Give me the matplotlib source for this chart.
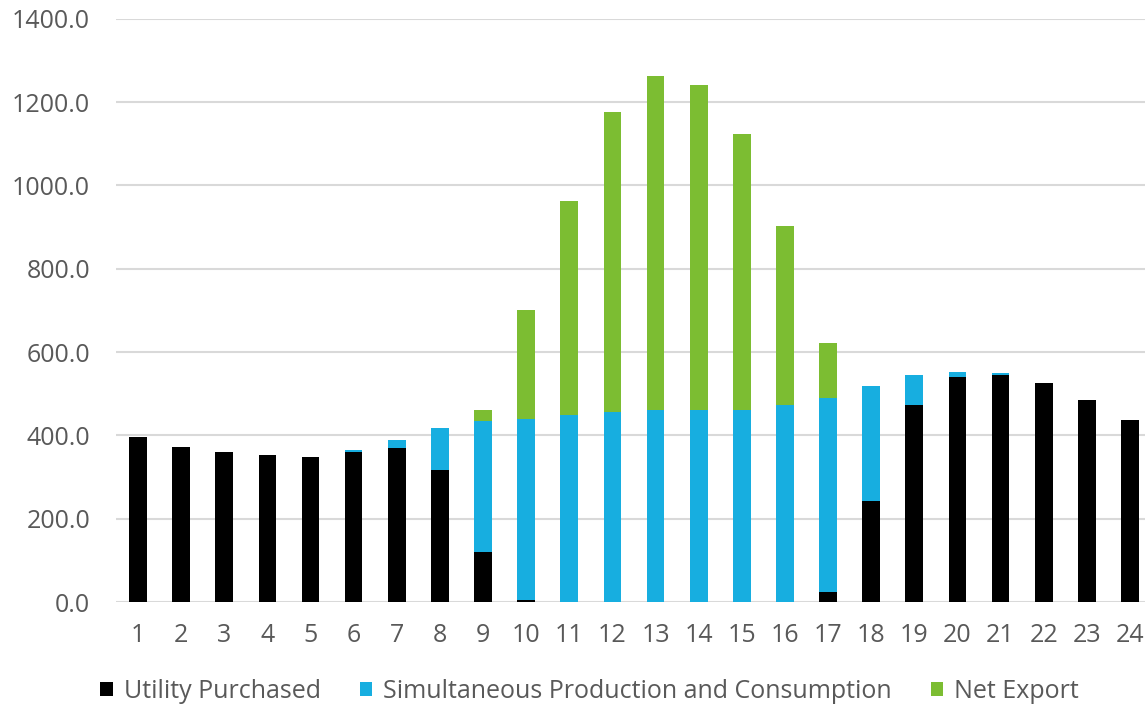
import matplotlib
matplotlib.use("Agg")
import matplotlib.pyplot as plt
import numpy as np

plt.rcParams['font.family'] = ['Open Sans', 'DejaVu Sans']

# Hourly energy profile (kWh) by hour of day
hours = list(range(1, 25))
utility = [397, 371, 359, 352, 349, 361, 369, 316, 119, 5, 0, 0,
           0, 0, 0, 0, 23, 242, 474, 540, 546, 525, 485, 437]
simultaneous = [0, 0, 0, 0, 0, 3, 19, 101, 315, 434, 449, 455,
                462, 462, 462, 472, 467, 276, 70, 11, 3, 0, 0, 0]
net_export = [0, 0, 0, 0, 0, 0, 0, 0, 28, 261, 513, 722,
              800, 778, 662, 430, 131, 0, 0, 0, 0, 0, 0, 0]
y_ticks = [0, 200, 400, 600, 800, 1000, 1200, 1400]

x = np.array(hours)
utility = np.array(utility)
simultaneous = np.array(simultaneous)
net_export = np.array(net_export)

fig = plt.figure(figsize=(11.45, 7.06), dpi=100)
ax = fig.add_axes([0.1017, 0.1473, 0.904, 0.826])

w = 0.41
ax.bar(x, utility, w, color="#000000", label="Utility Purchased", zorder=3)
ax.bar(x, simultaneous, w, bottom=utility, color="#17AEE0",
       label="Simultaneous Production and Consumption", zorder=3)
ax.bar(x, net_export, w, bottom=utility + simultaneous, color="#7CBD32",
       label="Net Export", zorder=3)

ax.set_xlim(0.5, 24.5)
ax.set_ylim(0, 1400)
ax.set_yticks(y_ticks)
ax.set_yticklabels([f"{v:.1f}" for v in y_ticks])
ax.set_xticks(hours)
ax.yaxis.grid(True, color="#D9D9D9", linewidth=1.5, zorder=0)
ax.set_axisbelow(True)
for s in ax.spines.values():
    s.set_visible(False)
ax.tick_params(axis="both", length=0, labelsize=18, colors="#595959")
ax.tick_params(axis="y", pad=19)
ax.tick_params(axis="x", pad=15)

leg = fig.legend(loc="center", bbox_to_anchor=(0.515, 0.021), ncol=3, frameon=False,
                 fontsize=18, handlelength=0.5, handleheight=0.5,
                 handletextpad=0.45, columnspacing=1.55)
for t in leg.get_texts():
    t.set_color("#595959")

fig.savefig("out.png", dpi=100)
